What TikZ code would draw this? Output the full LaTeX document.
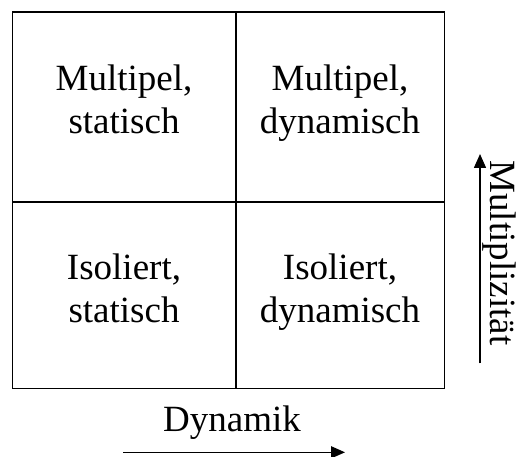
\documentclass[tikz,border=0pt]{standalone}
\usepackage{fontspec}
\setmainfont{Liberation Serif}
\usetikzlibrary{arrows.meta}
\begin{document}
\begin{tikzpicture}[x=1pt,y=-1pt,
  grid/.style={line width=1.7pt},
  lbl/.style={font=\fontsize{37}{43}\selectfont, align=center, inner sep=0pt, anchor=base},
  axis/.style={line width=1.5pt, -{Triangle[length=14pt,width=12pt]}}]
\useasboundingbox (0,0) rectangle (519,457);
% grid
\coordinate (tl) at (12.5,12);
\coordinate (br) at (444.5,388.5);
\draw[grid] (tl) rectangle (br);
\coordinate (mt) at (235.7,12);
\coordinate (mb) at (235.7,388.5);
\coordinate (ml) at (12.5,201.7);
\coordinate (mr) at (444.5,201.7);
\draw[grid] (mt) -- (mb);
\draw[grid] (ml) -- (mr);
% cell labels
\node[lbl] (ms) at (124,133.2) {Multipel,\\statisch};
\node[lbl] (md) at (340,133.2) {Multipel,\\dynamisch};
\node[lbl] (is) at (124,322.2) {Isoliert,\\statisch};
\node[lbl] (id) at (340,322.2) {Isoliert,\\dynamisch};
% axes
\node[lbl] (dyn) at (232,431) {Dynamik};
\coordinate (da) at (123.3,452.3);
\coordinate (db) at (345,452.3);
\draw[axis] (da) -- (db);
\node[lbl, rotate=-90] (mul) at (490,253) {Multiplizität};
\coordinate (ma) at (480,363.3);
\coordinate (mb2) at (480,154);
\draw[axis] (ma) -- (mb2);
\end{tikzpicture}
\end{document}
